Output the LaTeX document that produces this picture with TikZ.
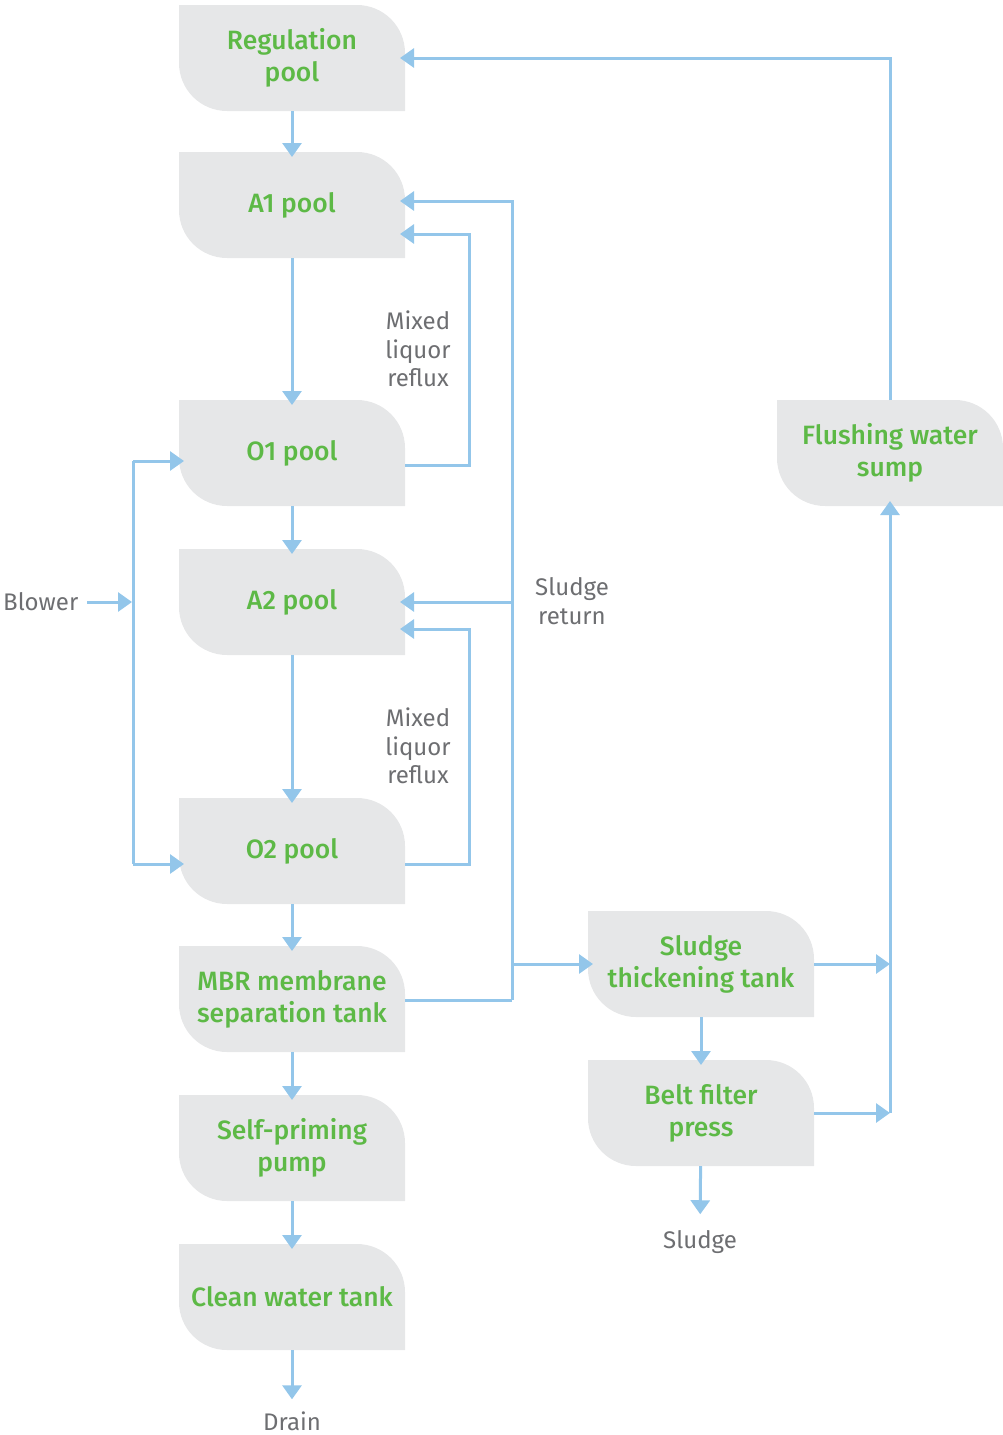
\documentclass[tikz,border=0pt]{standalone}
\usepackage{fontspec}
\setmainfont{Fira Sans}[UprightFont=* Medium]
\newfontfamily\notefont{Fira Sans}
\usetikzlibrary{positioning,arrows.meta,backgrounds}

\definecolor{boxgray}{HTML}{E6E7E8}
\definecolor{tankgreen}{HTML}{5DB946}
\definecolor{flowblue}{HTML}{93C6EA}
\definecolor{labelgray}{HTML}{6D6E71}

\tikzset{
tank/.style={
  minimum width=226pt,
  minimum height=106pt,
  inner sep=2pt,
  outer sep=0pt,
  align=center,
  text=tankgreen,
  font=\fontsize{26.5}{32}\selectfont,
},
note/.style={
  inner sep=0pt,
  align=center,
  text=labelgray,
  font=\notefont\fontsize{24}{28.5}\selectfont,
},
pipe/.style={draw=flowblue, line width=3pt},
flow/.style={pipe, -{Triangle[length=14pt,width=19pt]}, shorten >=-5pt},
outflow/.style={pipe, -{Triangle[length=14pt,width=19pt]}},
}

\begin{document}
\begin{tikzpicture}
\useasboundingbox (0,0) rectangle (1003pt,-1435pt);
                  % main line
\node[tank] (reg) at (292pt,-58pt) {Regulation\\pool};
\node[tank, below=41pt of reg] (a1) {A1 pool};
\node[tank, below=142pt of a1] (o1) {O1 pool};
\node[tank, below=43pt of o1] (a2) {A2 pool};
\node[tank, below=143pt of a2] (o2) {O2 pool};
\node[tank, below=42pt of o2] (mbr) {MBR membrane\\separation tank};
\node[tank, below=43pt of mbr] (pump) {Self-priming\\pump};
\node[tank, below=43pt of pump] (clean) {Clean water tank};
                  % sludge line
\node[tank] (thick) at (701pt,-964pt) {Sludge\\thickening tank};
\node[tank, below=43pt of thick] (belt) {Belt filter\\press};
\node[tank] (flush) at (890pt,-453pt) {Flushing water\\sump};
                  % labels
\node[note] (drain) at (292pt,-1421pt) {Drain};
\node[note] (sludge) at (700pt,-1242pt) {Sludge};
\node[note, anchor=west] (blower) at (3pt,-602pt) {Blower};
\node[note] (mix1) at (418pt,-349pt) {Mixed\\liquor\\reflux};
\node[note] (mix2) at (418pt,-746pt) {Mixed\\liquor\\reflux};
\node[note] (ret) at (572pt,-601pt) {Sludge\\return};

\begin{scope}[on background layer]
\foreach \n in {reg,a1,o1,a2,o2,mbr,pump,clean,thick,belt,flush}
  \fill[boxgray] (\n.north west) -- ([xshift=-48pt]\n.north east)
    arc[start angle=90, end angle=0, radius=48pt] -- (\n.south east)
    -- ([xshift=48pt]\n.south west)
    arc[start angle=270, end angle=180, radius=48pt] -- cycle;
\end{scope}

                  % down the main line
\foreach \a/\b in {reg/a1,a1/o1,o1/a2,a2/o2,o2/mbr,mbr/pump,pump/clean,thick/belt}
  \draw[flow] (\a) -- (\b);
\draw[outflow, shorten >=12pt] (clean) -- (drain);
\draw[outflow, shorten >=16pt] (belt) -- (sludge);
                  % blower
\coordinate (bus) at (133pt,-602pt);
\draw[outflow, shorten <=9pt, shorten >=1pt] (blower) -- (bus);
\draw[flow] ([yshift=-8pt]o1.west -| bus) -- ([yshift=-8pt]o1.west);
\draw[flow] ([yshift=-13pt]o2.west -| bus) -- ([yshift=-13pt]o2.west);
\draw[pipe] ([yshift=-8pt]o1.west -| bus) -- ([yshift=-13pt]o2.west -| bus);
                  % mixed liquor reflux
\draw[flow] ([yshift=-12pt]o1.east) -- ++(64pt,0) |- ([yshift=-29pt]a1.east);
\draw[flow] ([yshift=-13pt]o2.east) -- ++(64pt,0) |- ([yshift=-27pt]a2.east);
                  % sludge return
\draw[pipe] ([yshift=-1pt]mbr.east) -- ++(107pt,0) coordinate (riser);
\draw[flow] (riser) |- ([yshift=4pt]a1.east);
\draw[flow] (riser |- a2.east) -- (a2.east);
\draw[flow] (riser |- thick.west) -- (thick.west);
                  % flushing water
\coordinate (drop) at (belt.east -| flush.south);
\draw[outflow] (thick.east) -- (thick.east -| flush.south);
\draw[outflow] (belt.east) -- (drop);
\draw[flow] (drop) -- (flush.south);
\draw[flow] (flush.north) |- (reg.east);
\end{tikzpicture}
\end{document}
